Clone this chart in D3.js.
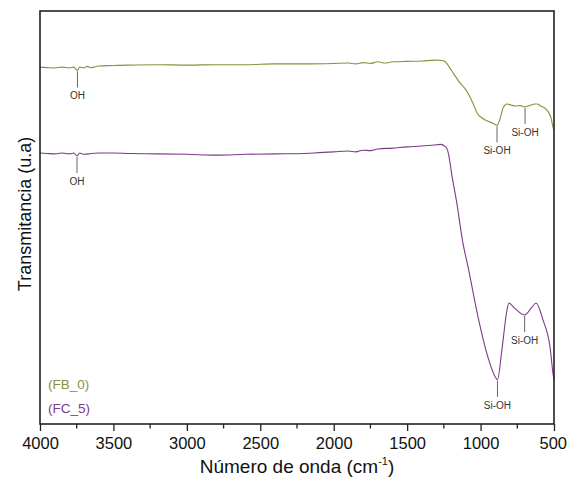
<!DOCTYPE html>
<html><head><meta charset="utf-8">
<script src="https://cdn.jsdelivr.net/npm/d3@7"></script>
<style>body{margin:0;background:#fff;}svg{display:block;font-family:Arial,"Liberation Sans",sans-serif;}</style>
</head><body><svg id="c" width="567" height="477"></svg>
<script>
const xTicks = [4000,3500,3000,2500,2000,1500,1000,500];
const seriesNames = ["(FB_0)","(FC_5)"];
const seriesColors = ["#8c8f3c","#7d3a88"];
const fb0Wn = [4000,3950,3900,3850,3800,3770,3745,3730,3700,3680,3650,3600,3500,3400,3200,3000,2800,2600,2400,2200,2000,1900,1850,1800,1750,1700,1650,1600,1500,1400,1300,1260,1240,1200,1140,1100,1072,1050,1024,990,956,920,900,888,870,847,820,790,760,730,697,660,630,616,590,548,520,507,500];
const fb0T = [86.4,86.3,86.2,86.4,86.2,86.4,85.6,86.4,86.2,86.6,86.3,86.7,86.8,86.9,87.0,86.9,87.0,87.0,87.2,87.2,87.3,87.4,87.2,87.5,87.3,87.7,87.4,87.7,87.8,87.9,88.1,88.0,87.7,85.7,82.6,80.9,79.2,77.5,75.3,74.1,73.4,72.9,72.5,72.3,73.6,76.5,77.5,77.2,77.0,77.1,76.8,77.2,77.5,77.5,77.0,76.0,74.1,71.9,71.2];
const fc5Wn = [4000,3950,3900,3850,3800,3770,3748,3730,3700,3650,3600,3500,3400,3200,3000,2800,2600,2400,2200,2100,2000,1900,1850,1800,1750,1700,1600,1500,1400,1300,1270,1245,1225,1190,1165,1120,1085,1017,950,900,885,855,820,807,770,700,650,622,575,527,507,500];
const fc5T = [65.6,65.5,65.4,65.6,65.4,65.6,64.9,65.6,65.3,65.5,65.6,65.6,65.5,65.4,65.3,65.1,65.3,65.4,65.5,65.7,65.9,66.1,65.9,66.3,66.2,66.6,66.8,67.1,67.3,67.6,67.7,67.3,66.3,59.1,54.2,43.8,38.0,25.9,16.2,11.4,10.7,17.9,27.6,29.3,28.1,26.4,28.3,29.3,25.2,18.6,12.3,10.7];
const annLabels = ["OH","Si-OH","Si-OH","OH","Si-OH","Si-OH"];
const annSeries = [0,0,0,1,1,1];
const annWn = [3745,888,697,3748,885,700];

const svg = d3.select("#c");
const m = {l:40,t:11,r:554,b:424};
const x = d3.scaleLinear().domain([4000,500]).range([m.l,m.r]);
const y = d3.scaleLinear().domain([0,100]).range([m.b,m.t]);

// axis
const xAxis = d3.axisBottom(x).tickValues(xTicks).tickSize(7).tickPadding(6).tickFormat(d3.format("d"));
const gx = svg.append("g").attr("transform",`translate(0,${m.b})`).call(xAxis);
gx.select(".domain").remove();
gx.selectAll(".tick line").attr("stroke","#222").attr("stroke-width",1.3);
gx.selectAll("text").attr("font-size",16.5).attr("fill","#111").attr("font-family","Arial, 'Liberation Sans', sans-serif");
gx.selectAll(".tick").filter(d=>d===500).select("text").attr("text-anchor","end").attr("dx",12.5);
const minor = d3.range(3750,500,-500);
svg.append("g").selectAll("line").data(minor).join("line")
  .attr("x1",d=>x(d)).attr("x2",d=>x(d)).attr("y1",m.b).attr("y2",m.b+4.5)
  .attr("stroke","#222").attr("stroke-width",1.3);

// lines
const line = d3.line().x(d=>x(d[0])).y(d=>y(d[1])).curve(d3.curveMonotoneX);
const data = [d3.zip(fb0Wn,fb0T), d3.zip(fc5Wn,fc5T)];
data.forEach((d,i)=>{
  svg.append("path").datum(d).attr("d",line).attr("fill","none")
    .attr("stroke",seriesColors[i]).attr("stroke-width",1.1);
});

// annotations
const seriesWn=[fb0Wn,fc5Wn], seriesT=[fb0T,fc5T];
annLabels.forEach((lab,i)=>{
  const s = annSeries[i];
  const idx = seriesWn[s].indexOf(annWn[i]);
  const py = y(seriesT[s][idx]);
  const px = x(annWn[i]);
  svg.append("line").attr("x1",px).attr("x2",px).attr("y1",py+1).attr("y2",py+17)
    .attr("stroke","#666").attr("stroke-width",1);
  svg.append("text").attr("x",px).attr("y",py+29).attr("text-anchor","middle")
    .attr("font-size",10).attr("fill","#333").text(lab);
});

// frame
svg.append("rect").attr("x",m.l).attr("y",m.t).attr("width",m.r-m.l).attr("height",m.b-m.t)
  .attr("fill","none").attr("stroke","#222").attr("stroke-width",1.6);

// legend
seriesNames.forEach((n,i)=>{
  svg.append("text").attr("x",48).attr("y",389+i*24).attr("font-size",13.5)
    .attr("fill",seriesColors[i]).text(n);
});

// axis titles
const xt = svg.append("text").attr("x",297).attr("y",473).attr("text-anchor","middle")
  .attr("font-size",19).attr("fill","#111");
xt.append("tspan").text("Número de onda (cm");
xt.append("tspan").attr("font-size",11).attr("dy",-8).text("-1");
xt.append("tspan").attr("dy",8).text(")");
svg.append("text").attr("transform","translate(31,214) rotate(-90)").attr("text-anchor","middle")
  .attr("font-size",18).attr("fill","#111").text("Transmitancia (u.a)");
</script></body></html>
